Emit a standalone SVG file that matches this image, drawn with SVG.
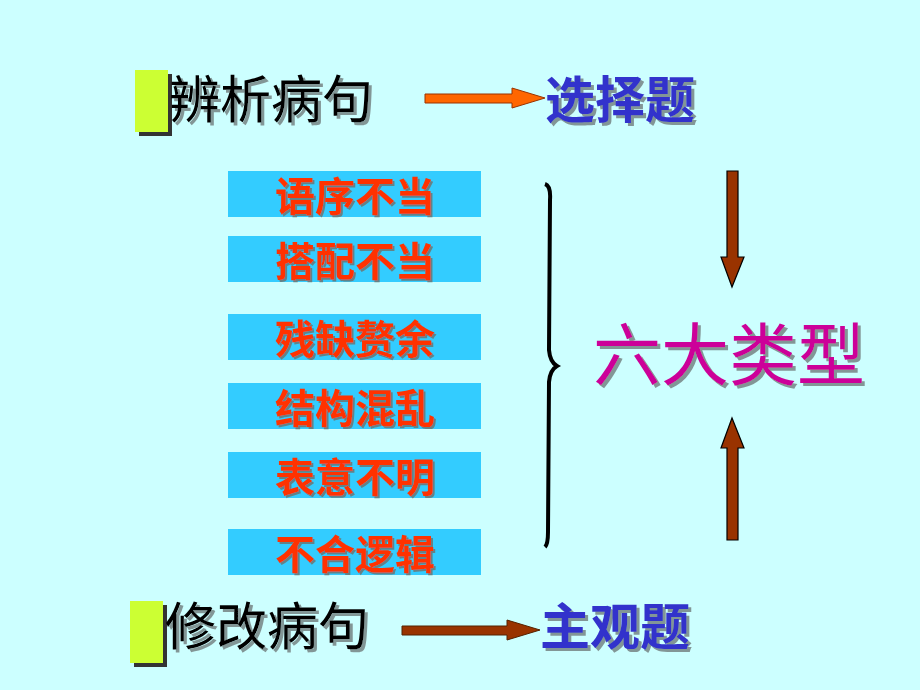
<svg xmlns="http://www.w3.org/2000/svg" width="920" height="690" viewBox="0 0 920 690">
<defs>
<filter id="shadow" x="-10%" y="-10%" width="130%" height="140%">
<feDropShadow dx="3" dy="3" stdDeviation="0.4" flood-color="#7a8a8a" flood-opacity="0.9"/>
</filter>
<filter id="shadowSm" x="-10%" y="-10%" width="130%" height="140%">
<feDropShadow dx="2" dy="2" stdDeviation="0.3" flood-color="#6a7a7a" flood-opacity="0.9"/>
</filter>
<style>
.cjk{font-family:"Noto Sans CJK SC","Noto Sans",sans-serif;}
.head{font-size:51px;fill:#000;filter:url(#shadow);}
.ans{font-size:50px;fill:#3333CC;font-weight:bold;filter:url(#shadow);}
.item{font-size:40px;fill:#FF3300;font-weight:bold;text-anchor:middle;filter:url(#shadowSm);}
.box{fill:#33CCFF;}
.mark{fill:#CCFF33;}
.markSh{fill:#333;}
</style>
</defs>
<rect width="920" height="690" fill="#CCFFFF"/>

<g id="top-title">
<rect class="markSh" x="139" y="74" width="33" height="62"/>
<rect class="mark" x="135" y="70" width="33" height="62"/>
<text class="cjk head" x="169" y="118">辨析病句</text>
</g>
<g id="top-answer">
<text class="cjk ans" x="545" y="118">选择题</text>
</g>

<g id="item1">
<rect class="box" x="228" y="171" width="253" height="46"/>
<text class="cjk item" x="355" y="211">语序不当</text>
</g>
<g id="item2">
<rect class="box" x="228" y="236" width="253" height="46"/>
<text class="cjk item" x="355" y="276">搭配不当</text>
</g>
<g id="item3">
<rect class="box" x="228" y="314" width="253" height="46"/>
<text class="cjk item" x="355" y="354">残缺赘余</text>
</g>
<g id="item4">
<rect class="box" x="228" y="383" width="253" height="46"/>
<text class="cjk item" x="355" y="423">结构混乱</text>
</g>
<g id="item5">
<rect class="box" x="228" y="452" width="253" height="46"/>
<text class="cjk item" x="355" y="492">表意不明</text>
</g>
<g id="item6">
<rect class="box" x="228" y="529" width="253" height="46"/>
<text class="cjk item" x="355" y="569">不合逻辑</text>
</g>

<g id="six-types">
<text class="cjk" x="593" y="380" font-size="68" fill="#CC0099" filter="url(#shadow)">六大类型</text>
</g>

<g id="bottom-title">
<rect class="markSh" x="134" y="605" width="33" height="62"/>
<rect class="mark" x="130" y="601" width="33" height="62"/>
<text class="cjk head" x="165" y="645">修改病句</text>
</g>
<g id="bottom-answer">
<text class="cjk ans" x="540" y="645">主观题</text>
</g>

<g id="connectors">
<path d="M545,184 Q551,186 550,200 L549,350 Q550,362 557,366 Q550,370 549,382 L548,532 Q548,544 545,547" fill="none" stroke="#000" stroke-width="4"/>
<path d="M425,94 L512,94 L512,88 L545,98 L512,108 L512,103 L425,103 Z" fill="#FF6600" stroke="#993300" stroke-width="1"/>
<path d="M402,626 L507,626 L507,620 L540,630 L507,640 L507,635 L402,635 Z" fill="#993300" stroke="#552200" stroke-width="1"/>
<path d="M727,171 L738,171 L738,257 L744,257 L732,287 L721,257 L727,257 Z" fill="#993300" stroke="#000" stroke-width="1.2"/>
<path d="M727,540 L738,540 L738,448 L744,448 L732,418 L721,448 L727,448 Z" fill="#993300" stroke="#000" stroke-width="1.2"/>
</g>
</svg>
